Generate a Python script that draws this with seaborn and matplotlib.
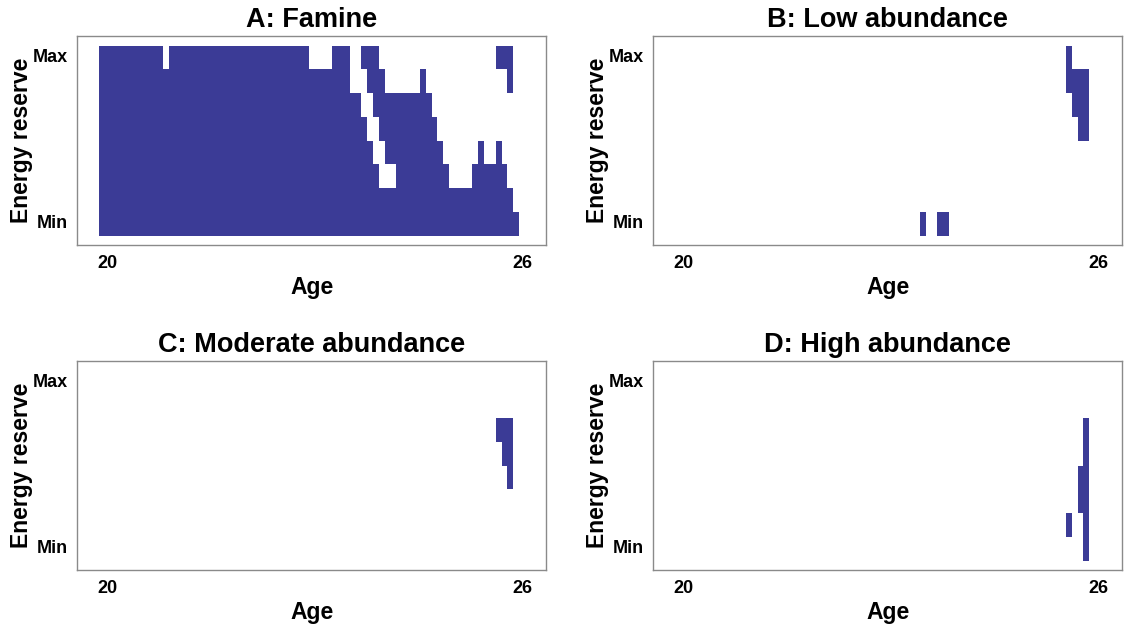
import numpy as np
import matplotlib
matplotlib.use("Agg")
import matplotlib.pyplot as plt
import seaborn as sns
from matplotlib.colors import ListedColormap

# grid: 8 energy levels (top row = Max), 73 monthly age steps
n_energy = 8
n_age = 73
age_ticks = [1.5, 72.5]
age_labels = ["20", "26"]
energy_labels = ["Max", "Min"]

# filled spans per energy row (row 0 = Max), [start, end) in age steps
famine = [
    [(0, 11), (12, 36), (40, 43), (45, 48), (68, 71)],
    [(0, 43), (46, 49), (55, 56), (70, 71)],
    [(0, 45), (47, 57)],
    [(0, 46), (48, 58)],
    [(0, 47), (49, 59), (65, 66), (68, 69)],
    [(0, 48), (51, 60), (64, 70)],
    [(0, 71)],
    [(0, 72)],
]
low = [
    [(67, 68)],
    [(67, 71)],
    [(68, 71)],
    [(69, 71)],
    [], [], [],
    [(42, 43), (45, 47)],
]
moderate = [
    [], [],
    [(68, 71)],
    [(69, 71)],
    [(70, 71)],
    [], [], [],
]
high = [
    [], [],
    [(70, 71)],
    [(70, 71)],
    [(69, 71)],
    [(69, 71)],
    [(67, 68), (70, 71)],
    [(70, 71)],
]

titles = ["A: Famine", "B: Low abundance", "C: Moderate abundance", "D: High abundance"]
panels = [famine, low, moderate, high]

fill_col = "#3b3b96"
frame_col = "#8a8a8a"


def to_grid(rows):
    g = np.zeros((n_energy, n_age))
    for r, spans in enumerate(rows):
        for a, b in spans:
            g[r, a:b] = 1
    return g


sns.set_style("white")
plt.rcParams["font.family"] = ["Liberation Sans", "DejaVu Sans"]
plt.rcParams["font.weight"] = "bold"
plt.rcParams["text.color"] = "black"
plt.rcParams["axes.labelcolor"] = "black"
plt.rcParams["xtick.color"] = "black"
plt.rcParams["ytick.color"] = "black"

fig = plt.figure(figsize=(11.24, 6.26), dpi=100)
W, H = 1124, 626
boxes = [(77.3, 36), (653.3, 36), (77.3, 361), (653.3, 361)]
aw, ah = 469, 209

for (x0, y0), title, rows in zip(boxes, titles, panels):
    ax = fig.add_axes([x0 / W, (H - y0 - ah) / H, aw / W, ah / H])
    grid = to_grid(rows)
    sns.heatmap(grid, mask=(grid == 0), cmap=ListedColormap([fill_col]),
                vmin=0, vmax=1, cbar=False, linewidths=0, ax=ax)
    ax.set_xlim(-0.05 * n_age, n_age * 1.05)
    ax.set_ylim(n_energy + 0.05 * n_energy, -0.05 * n_energy)
    ax.set_xticks(age_ticks)
    ax.set_xticklabels(age_labels, rotation=0, fontsize=13, fontweight="bold", color="black")
    ax.set_yticks([0.5, n_energy - 0.5])
    ax.set_yticklabels(energy_labels, rotation=0, fontsize=13, fontweight="bold", color="black")
    ax.tick_params(length=0, pad=7)
    ax.tick_params(axis="y", pad=6.5)
    for s in ax.spines.values():
        s.set_visible(True)
        s.set_color(frame_col)
        s.set_linewidth(1.0)
    ax.set_xlabel("Age", fontsize=16.5, fontweight="bold", labelpad=3, color="black")
    ax.set_ylabel("Energy reserve", fontsize=16.5, fontweight="bold", labelpad=0, color="black")
    ax.set_title(title, fontsize=19.5, fontweight="bold", pad=6.5, color="black")

fig.savefig("out.png", dpi=100)
